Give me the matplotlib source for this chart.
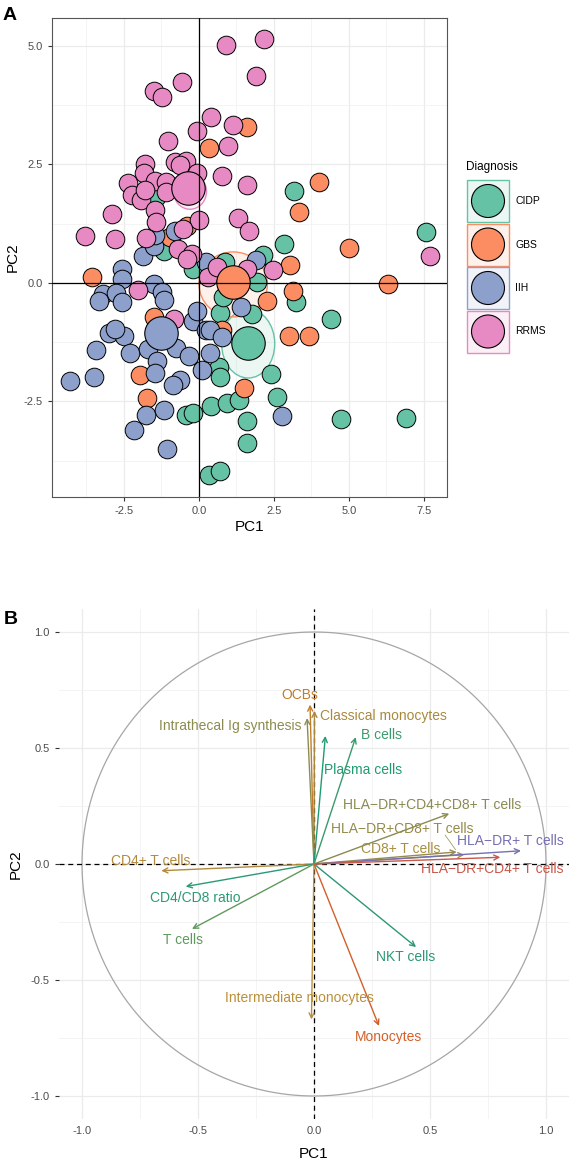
import numpy as np
import matplotlib.pyplot as plt
from matplotlib.patches import Ellipse, Rectangle, Circle

plt.rcParams['font.family'] = ['Liberation Sans', 'DejaVu Sans']

# ---- panel A data: individuals on PC1/PC2 ----
groups = ['CIDP', 'GBS', 'IIH', 'RRMS']
colors = ['#66C2A5', '#FC8D62', '#8DA0CB', '#E78AC3']

cidp_pc1 = [-1.44, 3.18, 2.84, 7.56, 0.87, 2.14, -1.17, -0.2, 1.92, 3.22, 4.39, 1.76, 0.7, 0.81,
            0.68, 0.7, 2.39, 2.61, -0.43, -0.21, 0.39, 0.94, 1.34, 1.61, 1.61, 0.34, 0.7, 4.72, 6.9]
cidp_pc2 = [1.82, 1.94, 0.83, 1.07, 0.45, 0.59, 0.68, 0.29, 0.02, -0.41, -0.75, -0.65, -0.63, -0.29,
            -1.78, -1.98, -1.92, -2.41, -2.78, -2.74, -2.59, -2.53, -2.47, -2.91, -3.37, -4.05, -3.96, -2.87, -2.84]

gbs_pc1 = [1.61, 0.34, 4.0, 3.33, 5.0, -0.41, -0.95, 3.03, 3.14, 6.31, -3.56, -1.5, 2.28, 3.01,
           3.68, 0.78, -1.97, -1.74, 1.5]
gbs_pc2 = [3.28, 2.85, 2.14, 1.5, 0.73, 1.21, 0.96, 0.38, -0.16, -0.02, 0.12, -0.71, -0.39, -1.12,
           -1.12, -0.99, -1.94, -2.43, -2.22]

iih_pc1 = [0.22, 1.9, -2.58, -2.58, -3.19, -2.77, -3.32, -2.58, -1.5, -1.22, -1.17, -1.87, -1.5,
           -1.45, -0.79, -0.19, -0.05, -2.99, -2.5, -2.8, -3.43, -2.3, -1.69, -1.41, -1.45, -0.76,
           -0.34, -0.63, -0.88, 0.09, 0.37, 0.24, 0.37, 0.77, -4.3, -3.5, -1.77, -1.17, -2.17,
           -1.08, 2.76, 1.39]
iih_pc2 = [0.45, 0.48, 0.3, 0.08, -0.23, -0.22, -0.37, -0.41, -0.02, -0.18, -0.36, 0.57, 0.78,
           1.01, 1.09, -0.8, -0.59, -1.05, -1.12, -0.98, -1.41, -1.48, -1.4, -1.64, -1.9, -1.37,
           -1.55, -2.05, -2.15, -1.84, -1.48, -0.99, -0.99, -1.14, -2.06, -1.99, -2.78, -2.69, -3.1,
           -3.51, -2.81, -0.5]

rrms_pc1 = [0.9, 2.18, 1.9, -0.57, -1.5, -1.23, 0.41, 1.14, -0.08, 0.98, -1.03, -1.79, -1.83,
            -0.81, -0.44, -0.63, -0.08, 0.76, 1.59, -2.36, -2.22, -1.93, -1.47, -1.1, -1.1, -1.8,
            -1.47, -1.43, -2.91, -3.8, -2.8, 0.01, 1.3, 1.68, -0.52, -1.77, -0.69, -0.24, -0.41,
            0.31, 0.59, 1.6, 2.48, -2.03, -0.83, 7.69]
rrms_pc2 = [5.03, 5.14, 4.37, 4.23, 4.04, 3.93, 3.5, 3.33, 3.21, 2.9, 3.0, 2.51, 2.33, 2.56, 2.57,
            2.48, 2.31, 2.26, 2.07, 2.1, 1.86, 1.75, 2.16, 2.12, 1.91, 1.96, 1.53, 1.29, 1.45, 0.99,
            0.92, 1.32, 1.38, 1.1, 1.13, 0.95, 0.72, 0.61, 0.5, 0.13, 0.34, 0.3, 0.27, -0.14, -0.76, 0.57]

group_pc1 = [cidp_pc1, gbs_pc1, iih_pc1, rrms_pc1]
group_pc2 = [cidp_pc2, gbs_pc2, iih_pc2, rrms_pc2]

mean_pc1 = [1.64, 1.12, -1.27, -0.36]
mean_pc2 = [-1.26, 0.02, -1.05, 2.0]
ell_w = [1.77, 2.28, 0.9, 1.1]
ell_h = [1.45, 1.37, 0.55, 0.75]
ell_cy = [-1.28, -0.03, -1.05, 1.93]
ell_cx = [1.64, 1.14, -1.27, -0.3]

# ---- panel B data: variables ----
var_names = ['OCBs', 'Classical monocytes', 'Intrathecal Ig synthesis', 'Plasma cells', 'B cells',
             'HLA\u2212DR+CD4+CD8+ T cells', 'HLA\u2212DR+CD8+ T cells', 'CD8+ T cells',
             'HLA\u2212DR+ T cells', 'HLA\u2212DR+CD4+ T cells', 'CD4+ T cells', 'CD4/CD8 ratio',
             'T cells', 'NKT cells', 'Intermediate monocytes', 'Monocytes']
var_pc1 = [-0.017, 0.002, -0.03, 0.049, 0.18, 0.583, 0.615, 0.648, 0.892, 0.803, -0.658, -0.553,
           -0.526, 0.44, -0.011, 0.28]
var_pc2 = [0.687, 0.66, 0.629, 0.552, 0.547, 0.217, 0.052, 0.04, 0.057, 0.029, -0.029, -0.097,
           -0.28, -0.358, -0.67, -0.698]
lab_x = [-0.063, 0.30, -0.36, 0.21, 0.29, 0.51, 0.38, 0.374, 0.845, 0.767, -0.705, -0.514,
         -0.566, 0.394, -0.061, 0.322]
lab_y = [0.73, 0.64, 0.595, 0.404, 0.555, 0.253, 0.149, 0.063, 0.098, -0.021, 0.013, -0.145,
         -0.326, -0.403, -0.577, -0.744]
var_colors = ['#C27C2C', '#A8893F', '#8C8C50', '#1F9A73', '#3B9A6C', '#8A8A52', '#958B4A', '#A88F40',
              '#7570B3', '#C9574A', '#B3893B', '#2A9A74', '#5E9A5E', '#2D9775', '#B8903C', '#D2602A']

W, H = 573, 1171
fig = plt.figure(figsize=(W / 100, H / 100), dpi=100)


def box(l, t, r, b):
    return [l / W, 1 - b / H, (r - l) / W, (b - t) / H]


# ================= panel A =================
axA = fig.add_axes(box(52, 18, 447, 497))
axA.set_xlim(-4.9, 8.267)
axA.set_ylim(-4.515, 5.59)
axA.set_xticks([-2.5, 0, 2.5, 5, 7.5])
axA.set_yticks([-2.5, 0, 2.5, 5.0])
axA.set_xticks([-3.75, -1.25, 1.25, 3.75, 6.25], minor=True)
axA.set_yticks([-3.75, -1.25, 1.25, 3.75], minor=True)
axA.xaxis.set_major_formatter(plt.FormatStrFormatter('%.1f'))
axA.yaxis.set_major_formatter(plt.FormatStrFormatter('%.1f'))
axA.grid(which='major', color='#EBEBEB', lw=0.9)
axA.grid(which='minor', color='#F2F2F2', lw=0.6)
axA.set_axisbelow(True)
axA.tick_params(which='major', length=3, color='#333333', labelsize=8, labelcolor='#4D4D4D')
axA.tick_params(which='minor', length=0)
for sp in axA.spines.values():
    sp.set_color('#555555')
    sp.set_linewidth(0.8)

for i in range(4):
    axA.add_patch(Ellipse((ell_cx[i], ell_cy[i]), ell_w[i], ell_h[i], facecolor=colors[i],
                          alpha=0.12, edgecolor='none', zorder=1))
    axA.add_patch(Ellipse((ell_cx[i], ell_cy[i]), ell_w[i], ell_h[i], facecolor='none',
                          edgecolor=colors[i], lw=1.0, zorder=1.1))
for i in range(4):
    axA.scatter(group_pc1[i], group_pc2[i], s=180, color=colors[i], edgecolor='black',
                linewidth=0.7, zorder=2)
for i in range(4):
    axA.scatter(mean_pc1[i], mean_pc2[i], s=580, color=colors[i], edgecolor='black',
                linewidth=0.8, zorder=3)
axA.axhline(0, color='black', lw=0.9, zorder=4)
axA.axvline(0, color='black', lw=0.9, zorder=4)
axA.set_xlabel('PC1', fontsize=11, labelpad=3)
axA.set_ylabel('PC2', fontsize=11, labelpad=3)
fig.text(3 / W, 1 - 20 / H, 'A', fontsize=14, fontweight='bold')

# legend for panel A
axL = fig.add_axes(box(460, 150, 573, 360))
axL.set_xlim(460, 573)
axL.set_ylim(360, 150)
axL.axis('off')
axL.text(466, 167, 'Diagnosis', fontsize=8.5, va='center', ha='left')
for i, g in enumerate(groups):
    top = 180 + i * 43.5
    axL.add_patch(Rectangle((467, top), 42, 42, facecolor=colors[i], alpha=0.12, edgecolor='none'))
    axL.add_patch(Rectangle((467, top), 42, 42, facecolor='none', edgecolor=colors[i], lw=1.0))
    axL.add_patch(Circle((488, top + 21), 16.5, facecolor=colors[i], edgecolor='black', lw=0.8))
    axL.text(515, top + 21, g, fontsize=7.5, va='center', ha='left')

# ================= panel B =================
axB = fig.add_axes(box(58.8, 608.8, 569.2, 1119.2))
axB.set_xlim(-1.1, 1.1)
axB.set_ylim(-1.1, 1.1)
axB.set_xticks([-1.0, -0.5, 0, 0.5, 1.0])
axB.set_yticks([-1.0, -0.5, 0, 0.5, 1.0])
axB.set_xticks([-0.75, -0.25, 0.25, 0.75], minor=True)
axB.set_yticks([-0.75, -0.25, 0.25, 0.75], minor=True)
axB.xaxis.set_major_formatter(plt.FormatStrFormatter('%.1f'))
axB.yaxis.set_major_formatter(plt.FormatStrFormatter('%.1f'))
axB.grid(which='major', color='#EBEBEB', lw=0.9)
axB.grid(which='minor', color='#F2F2F2', lw=0.6)
axB.set_axisbelow(True)
for sp in axB.spines.values():
    sp.set_visible(False)
axB.tick_params(axis='y', which='major', length=3, color='#333333', labelsize=8, labelcolor='#4D4D4D')
axB.tick_params(axis='x', which='major', length=0, pad=5, labelsize=8, labelcolor='#4D4D4D')
axB.tick_params(which='minor', length=0)

t = np.linspace(0, 2 * np.pi, 400)
axB.plot(np.cos(t), np.sin(t), color='#A6A6A6', lw=0.9, zorder=1)
axB.axhline(0, color='black', lw=0.9, ls=(0, (4, 3)), zorder=1.5)
axB.axvline(0, color='black', lw=0.9, ls=(0, (4, 3)), zorder=1.5)

for i, name in enumerate(var_names):
    axB.annotate('', xy=(var_pc1[i], var_pc2[i]), xytext=(0, 0),
                 arrowprops=dict(arrowstyle='->', color=var_colors[i], lw=1.0,
                                 shrinkA=0, shrinkB=0, mutation_scale=9), zorder=2)
    axB.text(lab_x[i], lab_y[i], name, color=var_colors[i], fontsize=10,
             ha='center', va='center', zorder=3)
# repel segment for HLA-DR+CD8+ T cells label
axB.plot([0.565, 0.61], [0.125, 0.062], color='#958B4A', lw=0.5, zorder=2)

axB.set_xlabel('PC1', fontsize=11, labelpad=8)
axB.set_ylabel('PC2', fontsize=11, labelpad=6)
fig.text(4 / W, 1 - 624 / H, 'B', fontsize=14, fontweight='bold')

fig.savefig('out.png', dpi=100)
